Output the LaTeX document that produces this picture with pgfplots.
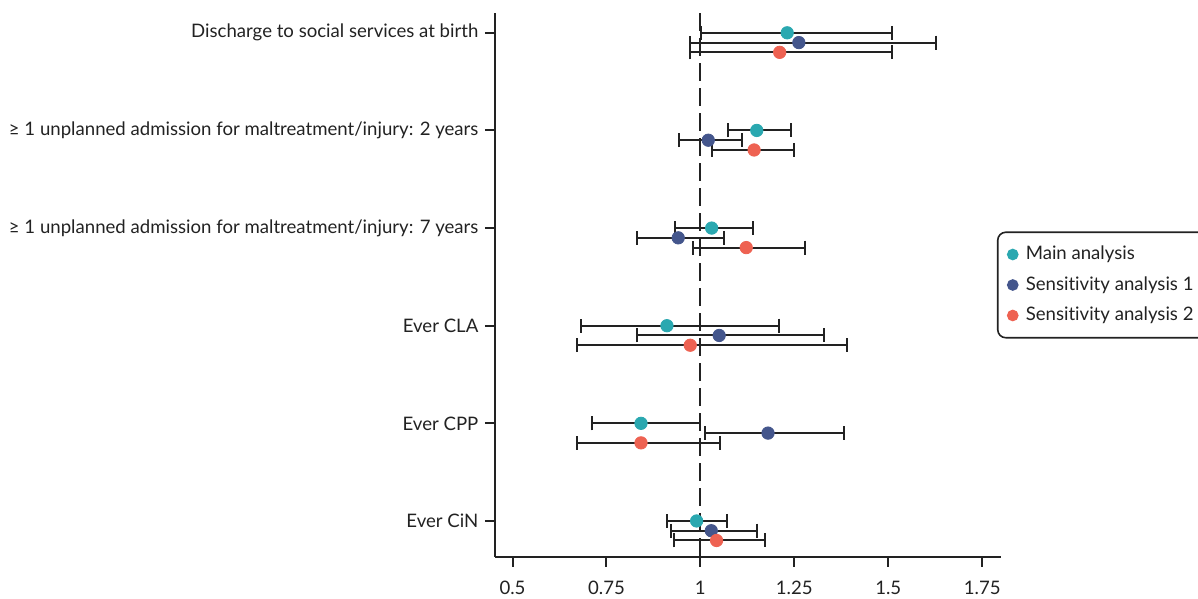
\documentclass[border=0pt]{standalone}
\usepackage{pgfplots}
\pgfplotsset{compat=1.18}
\usepackage{pgfplotstable}
\usepackage{fontspec}
\setmainfont{Lato}[Ligatures=NoCommon]
\definecolor{cmain}{RGB}{42,168,176}
\definecolor{csa1}{RGB}{68,86,140}
\definecolor{csa2}{RGB}{238,98,82}
\definecolor{ink}{RGB}{34,34,34}

\pgfplotstableread{
y x lo hi
6 1.231 1.001 1.510
5 1.150 1.073 1.242
4 1.030 0.933 1.140
3 0.911 0.683 1.210
2 0.842 0.712 1.000
1 0.990 0.911 1.071
}\tmain
\pgfplotstableread{
y x lo hi
5.9 1.262 0.973 1.627
4.9 1.021 0.942 1.111
3.9 0.941 0.831 1.062
2.9 1.050 0.831 1.329
1.9 1.180 1.013 1.382
0.9 1.029 0.923 1.150
}\tsaone
\pgfplotstableread{
y x lo hi
5.8 1.211 0.973 1.510
4.8 1.143 1.032 1.249
3.8 1.122 0.981 1.279
2.8 0.973 0.672 1.391
1.8 0.842 0.672 1.051
0.8 1.043 0.931 1.172
}\tsatwo

\pgfplotsset{ebar/.style={only marks, mark=none, forget plot,
  error bars/.cd, x dir=both, x explicit, error mark=|,
  error bar style={line width=1pt, ink},
  error mark options={line width=1pt, ink, mark size=3.5pt}}}

\begin{document}
\fontsize{9.3}{11}\selectfont
\begin{tikzpicture}
\begin{axis}[
  name=ax,
  scale only axis,
  width=253pt, height=271.7pt,
  xmin=0.4534, xmax=1.80,
  ymin=0.634, ymax=6.2,
  axis x line=bottom, axis y line=left,
  axis line style={-, line width=1pt, ink},
  tick align=outside,
  major tick length=5pt,
  tick style={line width=1pt, ink},
  xtick={0.5,0.75,1,1.25,1.5,1.75},
  xticklabels={0.5,0.75,1,1.25,1.5,1.75},
  ytick={1,2,3,4,5,6},
  yticklabels={Ever CiN, Ever CPP, Ever CLA,
    ≥ 1 unplanned admission for maltreatment/injury: 7 years,
    ≥ 1 unplanned admission for maltreatment/injury: 2 years,
    Discharge to social services at birth},
  ticklabel style={font=\fontsize{9.3}{11}\selectfont, text=ink},
  xticklabel style={yshift=-4pt},
  /pgf/number format/assume math mode=true,
  clip=false,
  legend style={at={(0.992,0.5)}, anchor=west, draw=ink, line width=0.8pt,
    rounded corners=4pt, font=\fontsize{9.3}{11}\selectfont,
    row sep=3pt, inner xsep=5pt, inner ysep=5pt, column sep=2pt, text=ink},
  legend cell align=left,
]
\addplot[ink, line width=1pt, dash pattern=on 9pt off 3.5pt, forget plot] coordinates {(1,6.2) (1,0.634)};
\addplot[ebar] table[x=x, y=y, x error plus expr=\thisrow{hi}-\thisrow{x}, x error minus expr=\thisrow{x}-\thisrow{lo}] {\tmain};
\addplot[ebar] table[x=x, y=y, x error plus expr=\thisrow{hi}-\thisrow{x}, x error minus expr=\thisrow{x}-\thisrow{lo}] {\tsaone};
\addplot[ebar] table[x=x, y=y, x error plus expr=\thisrow{hi}-\thisrow{x}, x error minus expr=\thisrow{x}-\thisrow{lo}] {\tsatwo};
\addplot[only marks, mark=*, mark size=3.1pt, color=cmain, forget plot] table[x=x,y=y] {\tmain};
\addplot[only marks, mark=*, mark size=3.1pt, color=csa1, forget plot] table[x=x,y=y] {\tsaone};
\addplot[only marks, mark=*, mark size=3.1pt, color=csa2, forget plot] table[x=x,y=y] {\tsatwo};
\addlegendimage{only marks, mark=*, mark size=2.5pt, color=cmain}
\addlegendentry{Main analysis}
\addlegendimage{only marks, mark=*, mark size=2.5pt, color=csa1}
\addlegendentry{Sensitivity analysis 1}
\addlegendimage{only marks, mark=*, mark size=2.5pt, color=csa2}
\addlegendentry{Sensitivity analysis 2}
\end{axis}
\pgfresetboundingbox
\path[use as bounding box] ([xshift=-247.5pt, yshift=-21pt]ax.south west) rectangle ([xshift=98.5pt, yshift=6.65pt]ax.north east);
\end{tikzpicture}
\end{document}
